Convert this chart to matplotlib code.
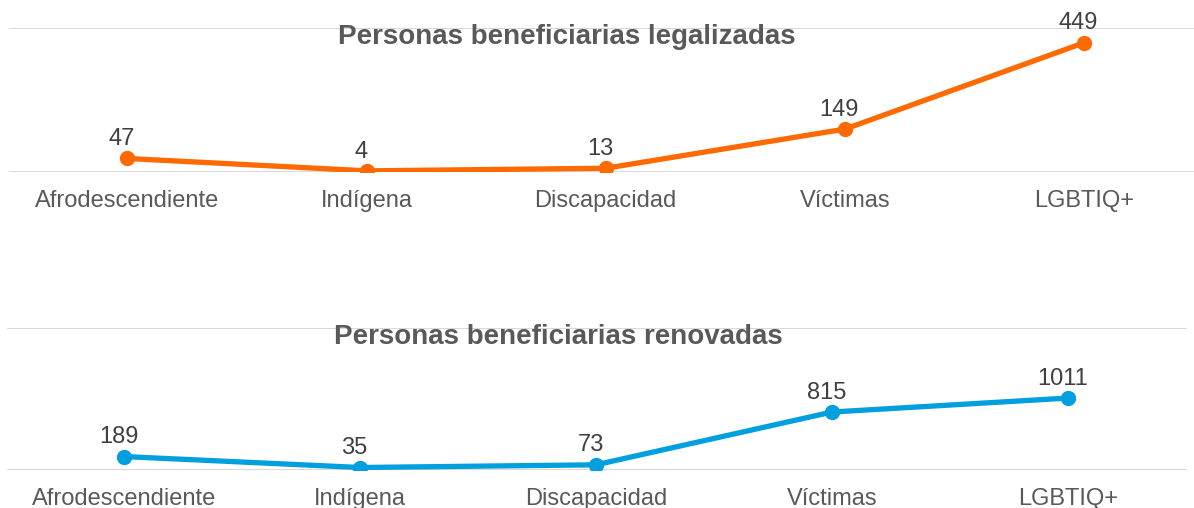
import matplotlib
matplotlib.use("Agg")
import matplotlib.pyplot as plt

plt.rcParams["font.family"] = ["Liberation Sans", "DejaVu Sans"]

categorias = ["Afrodescendiente", "Indígena", "Discapacidad", "Víctimas", "LGBTIQ+"]
legalizadas = [47, 4, 13, 149, 449]
renovadas = [189, 35, 73, 815, 1011]

ORANGE = "#FF6A00"
BLUE = "#009FDE"
GRID = "#D9D9D9"
TXT = "#595959"
LBL = "#404040"

W, H = 1194, 508
fig = plt.figure(figsize=(W / 100, H / 100), dpi=100)


def panel(rect_px, xlim, ymax, values, color, title, title_xy):
    x0, y0, x1, y1 = rect_px
    ax = fig.add_axes([x0 / W, 1 - y1 / H, (x1 - x0) / W, (y1 - y0) / H])
    xs = list(range(len(categorias)))
    ax.plot(xs, values, color=color, lw=3.8, marker="o", ms=10, solid_capstyle="round", zorder=3)
    for x, v in zip(xs, values):
        ax.annotate(str(v), (x, v), xytext=(-4, 6), textcoords="offset points",
                    ha="center", va="bottom", fontsize=17, color=LBL)
    ax.set_xlim(*xlim)
    ax.set_ylim(0, ymax)
    ax.set_yticks([0, ymax])
    ax.yaxis.grid(True, color=GRID, lw=1.5)
    ax.set_axisbelow(True)
    for s in ax.spines.values():
        s.set_visible(False)
    ax.tick_params(axis="y", left=False, labelleft=False)
    ax.set_xticks(xs)
    ax.set_xticklabels(categorias, fontsize=17, color=TXT)
    ax.tick_params(axis="x", length=0, pad=13)
    ax.patch.set_alpha(0)
    fig.text(title_xy[0] / W, 1 - title_xy[1] / H, title, ha="center", va="center",
             fontsize=20, fontweight="bold", color=TXT)
    return ax


panel((9, 28, 1194, 172), (-0.4945, 4.459), 500, legalizadas, ORANGE,
      "Personas beneficiarias legalizadas", (567, 37))
panel((7, 327.7, 1187, 470), (-0.496, 4.504), 2000, renovadas, BLUE,
      "Personas beneficiarias renovadas", (558, 337))

fig.savefig("out.png", dpi=100)
